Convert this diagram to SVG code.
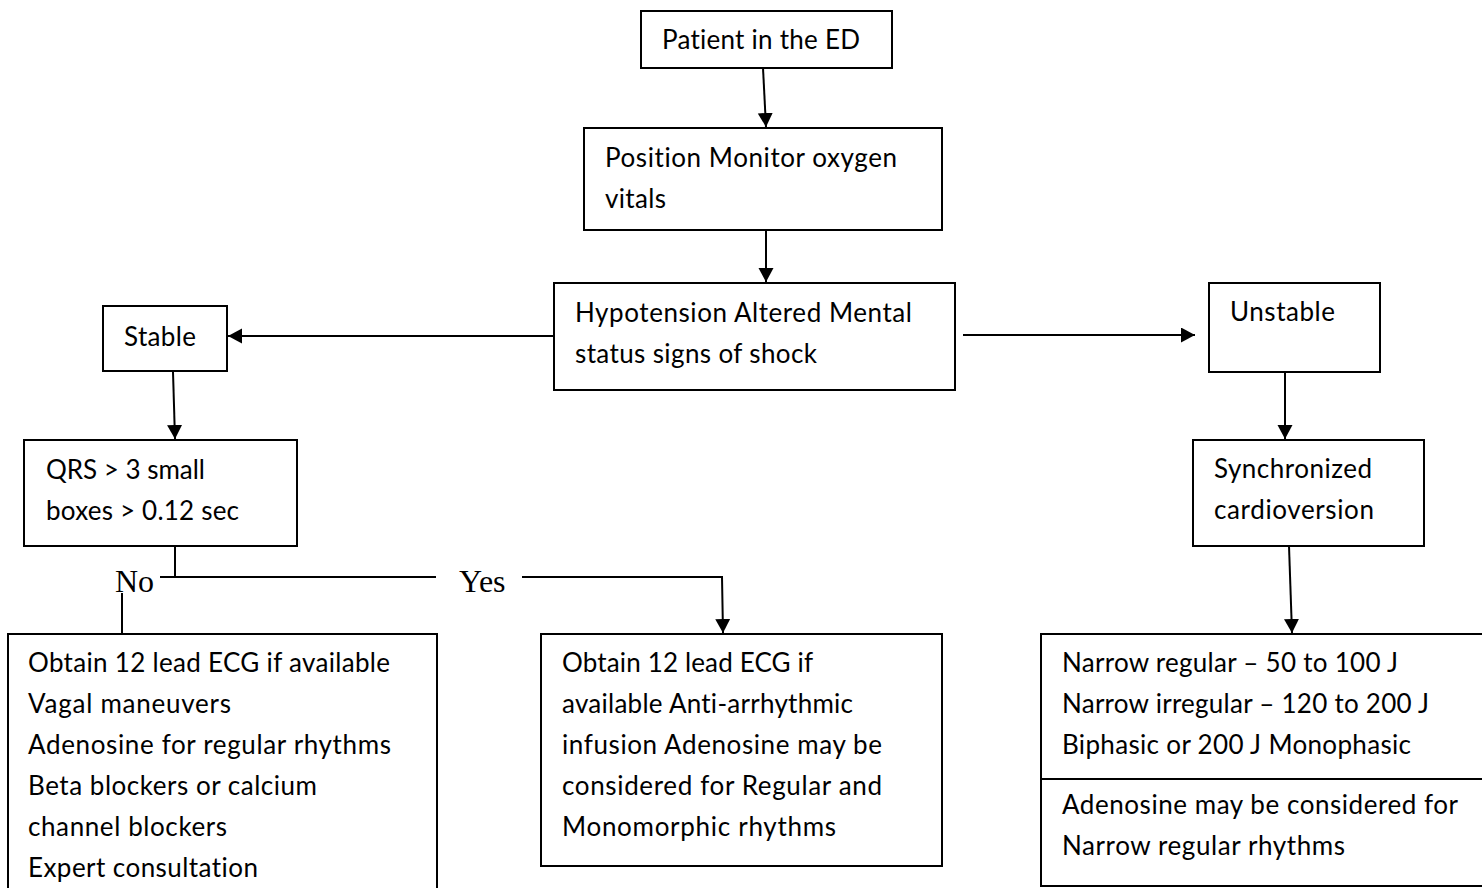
<svg xmlns="http://www.w3.org/2000/svg" width="1482" height="888" viewBox="0 0 1482 888">
<style>
.box{fill:#fff;stroke:#000;stroke-width:2}
.t{font-family:Lato,"Open Sans","Liberation Sans",sans-serif;font-size:26px;fill:#000;font-variant-ligatures:none}
.s{font-family:"Liberation Serif","Times New Roman",serif;font-size:32px;fill:#000}
.c{fill:none;stroke:#000;stroke-width:2}
</style>
<defs>
<marker id="ah" markerUnits="userSpaceOnUse" markerWidth="15" markerHeight="16" refX="14" refY="7.5" orient="auto">
<path d="M0,0 L14,7.5 L0,15 z" fill="#000"/>
</marker>
</defs>
<rect width="1482" height="888" fill="#fff"/>
<g id="connectors">
<line class="c" x1="763" y1="68" x2="766" y2="127" marker-end="url(#ah)"/>
<line class="c" x1="766" y1="229" x2="766" y2="282" marker-end="url(#ah)"/>
<line class="c" x1="554" y1="336" x2="228" y2="336" marker-end="url(#ah)"/>
<line class="c" x1="963" y1="335" x2="1195" y2="335" marker-end="url(#ah)"/>
<line class="c" x1="173" y1="372" x2="175" y2="439" marker-end="url(#ah)"/>
<line class="c" x1="1285" y1="370" x2="1285" y2="439" marker-end="url(#ah)"/>
<line class="c" x1="1289" y1="546" x2="1292" y2="633" marker-end="url(#ah)"/>
<line class="c" x1="175" y1="546" x2="175" y2="578"/>
<line class="c" x1="160" y1="577" x2="436" y2="577"/>
<polyline class="c" points="522,577 722,577 723,633" marker-end="url(#ah)"/>
<line class="c" x1="122" y1="593" x2="122" y2="634"/>
<text class="s" x="115" y="592">No</text>
<text class="s" x="459" y="592">Yes</text>
</g>
<g id="patient">
<rect class="box" x="641" y="11" width="251" height="57"/>
<text class="t" x="662" y="49" textLength="198">Patient in the ED</text>
</g>
<g id="position">
<rect class="box" x="584" y="128" width="358" height="102"/>
<text class="t" x="605" y="167" textLength="292">Position Monitor oxygen</text>
<text class="t" x="605" y="208" textLength="61">vitals</text>
</g>
<g id="hypotension">
<rect class="box" x="554" y="283" width="401" height="107"/>
<text class="t" x="575" y="322" textLength="337">Hypotension Altered Mental</text>
<text class="t" x="575" y="363" textLength="242">status signs of shock</text>
</g>
<g id="stable">
<rect class="box" x="103" y="306" width="124" height="65"/>
<text class="t" x="124" y="346" textLength="72">Stable</text>
</g>
<g id="unstable">
<rect class="box" x="1209" y="283" width="171" height="89"/>
<text class="t" x="1230" y="321" textLength="105">Unstable</text>
</g>
<g id="qrs">
<rect class="box" x="24" y="440" width="273" height="106"/>
<text class="t" x="46" y="479" textLength="159">QRS &gt; 3 small</text>
<text class="t" x="46" y="520" textLength="193">boxes &gt; 0.12 sec</text>
</g>
<g id="sync">
<rect class="box" x="1193" y="440" width="231" height="106"/>
<text class="t" x="1214" y="478" textLength="158">Synchronized</text>
<text class="t" x="1214" y="519" textLength="160">cardioversion</text>
</g>
<g id="no-branch">
<rect class="box" x="8" y="634" width="429" height="270"/>
<text class="t" x="28" y="672" textLength="362">Obtain 12 lead ECG if available</text>
<text class="t" x="28" y="713" textLength="203">Vagal maneuvers</text>
<text class="t" x="28" y="754" textLength="363">Adenosine for regular rhythms</text>
<text class="t" x="28" y="795" textLength="289">Beta blockers or calcium</text>
<text class="t" x="28" y="836" textLength="199">channel blockers</text>
<text class="t" x="28" y="877" textLength="230">Expert consultation</text>
</g>
<g id="yes-branch">
<rect class="box" x="541" y="634" width="401" height="232"/>
<text class="t" x="562" y="672" textLength="251">Obtain 12 lead ECG if</text>
<text class="t" x="562" y="713" textLength="291">available Anti-arrhythmic</text>
<text class="t" x="562" y="754" textLength="320">infusion Adenosine may be</text>
<text class="t" x="562" y="795" textLength="320">considered for Regular and</text>
<text class="t" x="562" y="836" textLength="274">Monomorphic rhythms</text>
</g>
<g id="cardioversion-doses">
<rect class="box" x="1041" y="634" width="460" height="252"/>
<line class="c" x1="1041" y1="779" x2="1482" y2="779"/>
<text class="t" x="1062" y="672" textLength="336">Narrow regular – 50 to 100 J</text>
<text class="t" x="1062" y="713" textLength="367">Narrow irregular – 120 to 200 J</text>
<text class="t" x="1062" y="754" textLength="349">Biphasic or 200 J Monophasic</text>
<text class="t" x="1062" y="814" textLength="396">Adenosine may be considered for</text>
<text class="t" x="1062" y="855" textLength="283">Narrow regular rhythms</text>
</g>
</svg>
